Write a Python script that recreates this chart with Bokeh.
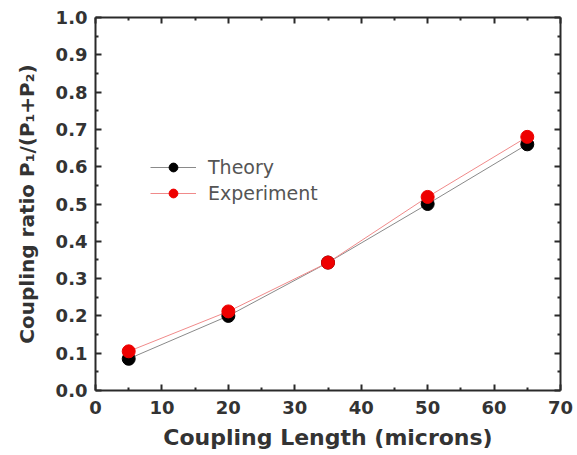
from bokeh.plotting import figure
from bokeh.models import (LinearAxis, Range1d, Legend, LegendItem, FixedTicker,
                          PrintfTickFormatter, CustomJSTickFormatter)
from bokeh.embed import file_html
from bokeh.resources import INLINE

length = [5, 20, 35, 50, 65]
theory = [0.085, 0.200, 0.343, 0.500, 0.660]
experiment = [0.105, 0.212, 0.343, 0.519, 0.680]

x_ticks = [0, 10, 20, 30, 40, 50, 60, 70]
y_ticks = [0.0, 0.1, 0.2, 0.3, 0.4, 0.5, 0.6, 0.7, 0.8, 0.9, 1.0]

FONT = "DejaVu Sans"
INK = "#2a2a2a"

p = figure(width=577, height=455, output_backend="svg", toolbar_location=None,
           x_range=Range1d(0, 70), y_range=Range1d(0, 1.0),
           min_border_left=95, min_border_right=17, min_border_top=17, min_border_bottom=65)
p.xgrid.visible = False
p.ygrid.visible = False
p.outline_line_color = None
p.background_fill_color = "white"
p.border_fill_color = "white"

def style(ax):
    ax.axis_line_width = 2
    ax.axis_line_color = INK
    ax.major_tick_in = 6
    ax.major_tick_out = 0
    ax.minor_tick_in = 3
    ax.minor_tick_out = 0
    ax.major_tick_line_width = 2
    ax.minor_tick_line_width = 2
    ax.major_tick_line_color = INK
    ax.minor_tick_line_color = INK
    ax.major_label_text_font = FONT
    ax.major_label_text_font_style = "bold"
    ax.major_label_text_font_size = "18px"
    ax.major_label_text_color = "#333333"
    ax.axis_label_text_font = FONT
    ax.axis_label_text_font_style = "bold"
    ax.axis_label_text_color = "#333333"

x_minor = [v + 5 for v in x_ticks[:-1]]
y_minor = [round(v + 0.05, 2) for v in y_ticks[:-1]]

p.xaxis.ticker = FixedTicker(ticks=x_ticks, minor_ticks=x_minor)
p.yaxis.ticker = FixedTicker(ticks=y_ticks, minor_ticks=y_minor)
p.yaxis.formatter = PrintfTickFormatter(format="%.1f")
p.xaxis.axis_label = "Coupling Length (microns)"
p.yaxis.axis_label = "Coupling ratio P\u2081/(P\u2081+P\u2082)"
style(p.xaxis[0])
style(p.yaxis[0])
p.xaxis.axis_label_text_font_size = "22px"
p.yaxis.axis_label_text_font_size = "20px"
p.xaxis.axis_label_standoff = 8
p.yaxis.axis_label_standoff = 14
p.xaxis.major_label_standoff = 10
p.yaxis.major_label_standoff = 8

blank = CustomJSTickFormatter(code="return '';")
top = LinearAxis(ticker=FixedTicker(ticks=x_ticks, minor_ticks=x_minor), formatter=blank)
right = LinearAxis(ticker=FixedTicker(ticks=y_ticks, minor_ticks=y_minor), formatter=blank)
style(top)
style(right)
top.major_label_standoff = 0
right.major_label_standoff = 0
p.add_layout(top, "above")
p.add_layout(right, "right")

l1 = p.line(length, theory, line_color="#8a8a8a", line_width=1)
l2 = p.line(length, experiment, line_color="#f08a8a", line_width=1)
s1 = p.scatter(length, theory, size=13, fill_color="black", line_color="black")
s2 = p.scatter(length, experiment, size=13, fill_color="#ee0000", line_color="#ee0000")

legend = Legend(items=[LegendItem(label="Theory", renderers=[l1, s1]),
                       LegendItem(label="Experiment", renderers=[l2, s2])],
                location=(55, 186), border_line_color=None, background_fill_alpha=0,
                label_text_font=FONT, label_text_font_size="19px", label_text_color="#555555",
                glyph_width=46, glyph_height=22, label_height=22, spacing=4, padding=4,
                label_standoff=12)
p.add_layout(legend, "center")

open("out.html", "w").write(file_html(p, INLINE))
